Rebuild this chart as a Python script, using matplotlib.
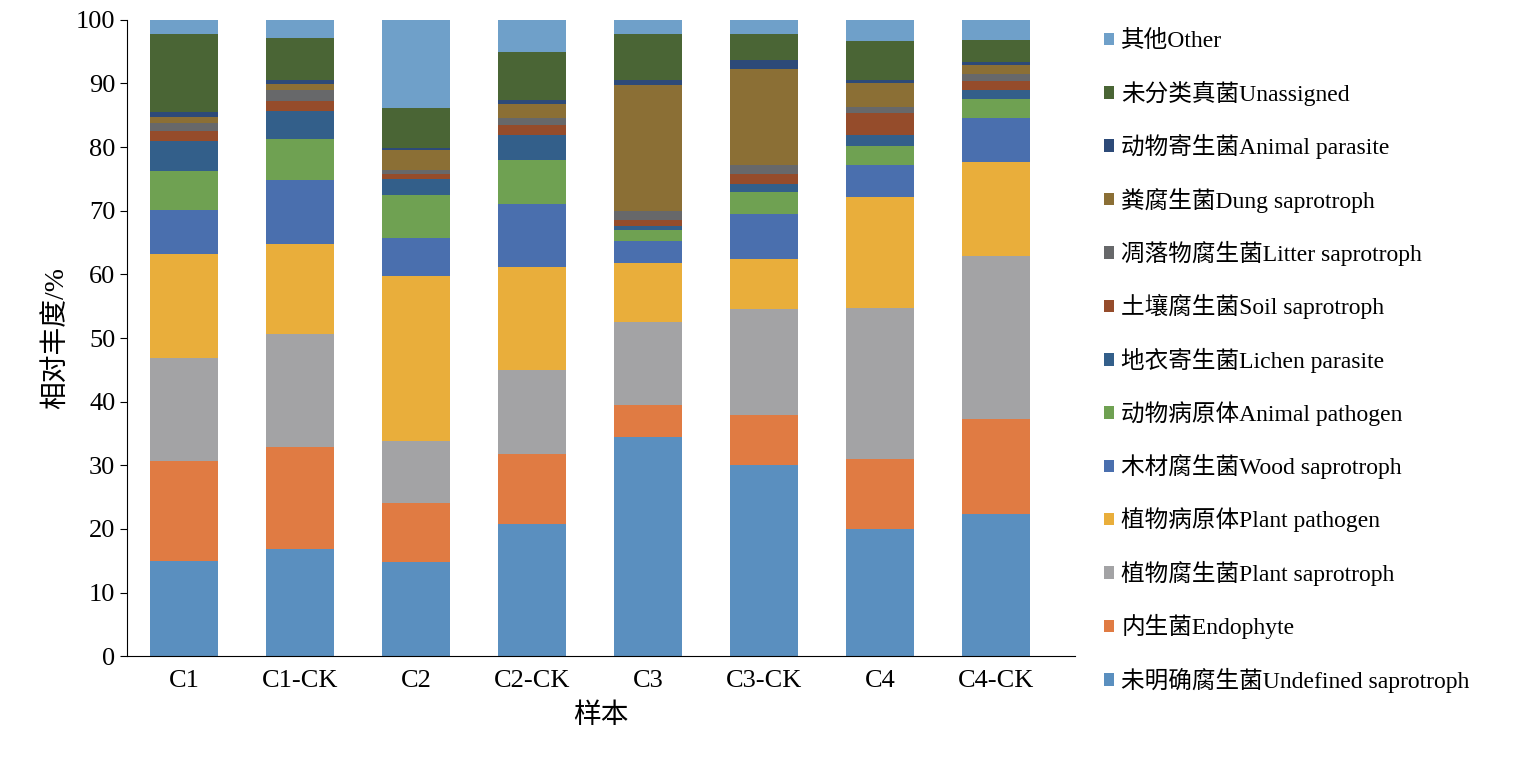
import matplotlib

matplotlib.use('Agg')
import matplotlib.pyplot as plt
import numpy as np

plt.rcParams['font.family'] = ['Liberation Serif', 'Noto Sans CJK SC']

samples = ['C1', 'C1-CK', 'C2', 'C2-CK', 'C3', 'C3-CK', 'C4', 'C4-CK']

# bottom to top stacking order
undefined_sap = [14.9, 16.8, 14.8, 20.8, 34.4, 30.0, 20.0, 22.3]
endophyte = [15.8, 16.1, 9.3, 11.0, 5.1, 7.9, 11.0, 15.0]
plant_sap = [16.2, 17.7, 9.7, 13.2, 13.0, 16.7, 23.7, 25.6]
plant_path = [16.3, 14.2, 25.9, 16.2, 9.3, 7.8, 17.5, 14.7]
wood_sap = [6.9, 10.0, 6.0, 9.9, 3.5, 7.1, 4.9, 7.0]
animal_path = [6.2, 6.4, 6.7, 6.8, 1.7, 3.5, 3.0, 3.0]
lichen_par = [4.6, 4.4, 2.5, 4.0, 0.6, 1.2, 1.8, 1.4]
soil_sap = [1.6, 1.7, 0.9, 1.5, 1.0, 1.5, 3.4, 1.3]
litter_sap = [1.3, 1.6, 0.6, 1.2, 1.3, 1.4, 1.0, 1.1]
dung_sap = [0.9, 1.0, 3.2, 2.1, 19.9, 15.2, 3.7, 1.5]
animal_par = [0.8, 0.7, 0.2, 0.7, 0.8, 1.4, 0.6, 0.4]
unassigned = [12.2, 6.5, 6.4, 7.5, 7.2, 4.1, 6.0, 3.5]
other = [2.3, 2.9, 13.8, 5.1, 2.2, 2.2, 3.4, 3.2]

series = [undefined_sap, endophyte, plant_sap, plant_path, wood_sap, animal_path,
          lichen_par, soil_sap, litter_sap, dung_sap, animal_par, unassigned, other]
labels = ['未明确腐生菌Undefined saprotroph', '内生菌Endophyte', '植物腐生菌Plant saprotroph',
          '植物病原体Plant pathogen', '木材腐生菌Wood saprotroph', '动物病原体Animal pathogen',
          '地衣寄生菌Lichen parasite', '土壤腐生菌Soil saprotroph', '凋落物腐生菌Litter saprotroph',
          '粪腐生菌Dung saprotroph', '动物寄生菌Animal parasite', '未分类真菌Unassigned', '其他Other']
colors = ['#5a8fbf', '#e07b43', '#a3a3a5', '#e9ae3b', '#4a6fae', '#6fa152', '#335f8a',
          '#954c2b', '#67686a', '#8b6f35', '#2d4a78', '#4a6535', '#6fa0c9']

fig = plt.figure(figsize=(15.31, 7.57), dpi=100)
ax = fig.add_axes([0.083, 0.133, 0.619, 0.841])

x = np.arange(len(samples))
bottom = np.zeros(len(samples))
handles = []
for vals, lab, col in zip(series, labels, colors):
    vals = np.array(vals)
    h = ax.bar(x, vals, 0.58, bottom=bottom, color=col, label=lab)
    handles.append(h)
    bottom += vals

ax.set_xlim(-0.49, 7.68)
ax.set_ylim(0, 100)
ax.set_yticks(range(0, 101, 10))
ax.set_xticks(x)
ax.set_xticklabels(samples)
ax.tick_params(labelsize=19, direction='out', length=5)
ax.tick_params(axis='x', length=0, pad=10)
for s in ['top', 'right']:
    ax.spines[s].set_visible(False)
ax.set_ylabel('相对丰度/%', fontsize=20)
ax.set_xlabel('样本', fontsize=20, labelpad=8)

fig.legend(handles[::-1], labels[::-1], loc='upper left', bbox_to_anchor=(0.707, 0.988),
           frameon=False, fontsize=17, handlelength=0.45, handleheight=0.45,
           handletextpad=0.3, labelspacing=1.2)

fig.savefig('out.png', dpi=100)
